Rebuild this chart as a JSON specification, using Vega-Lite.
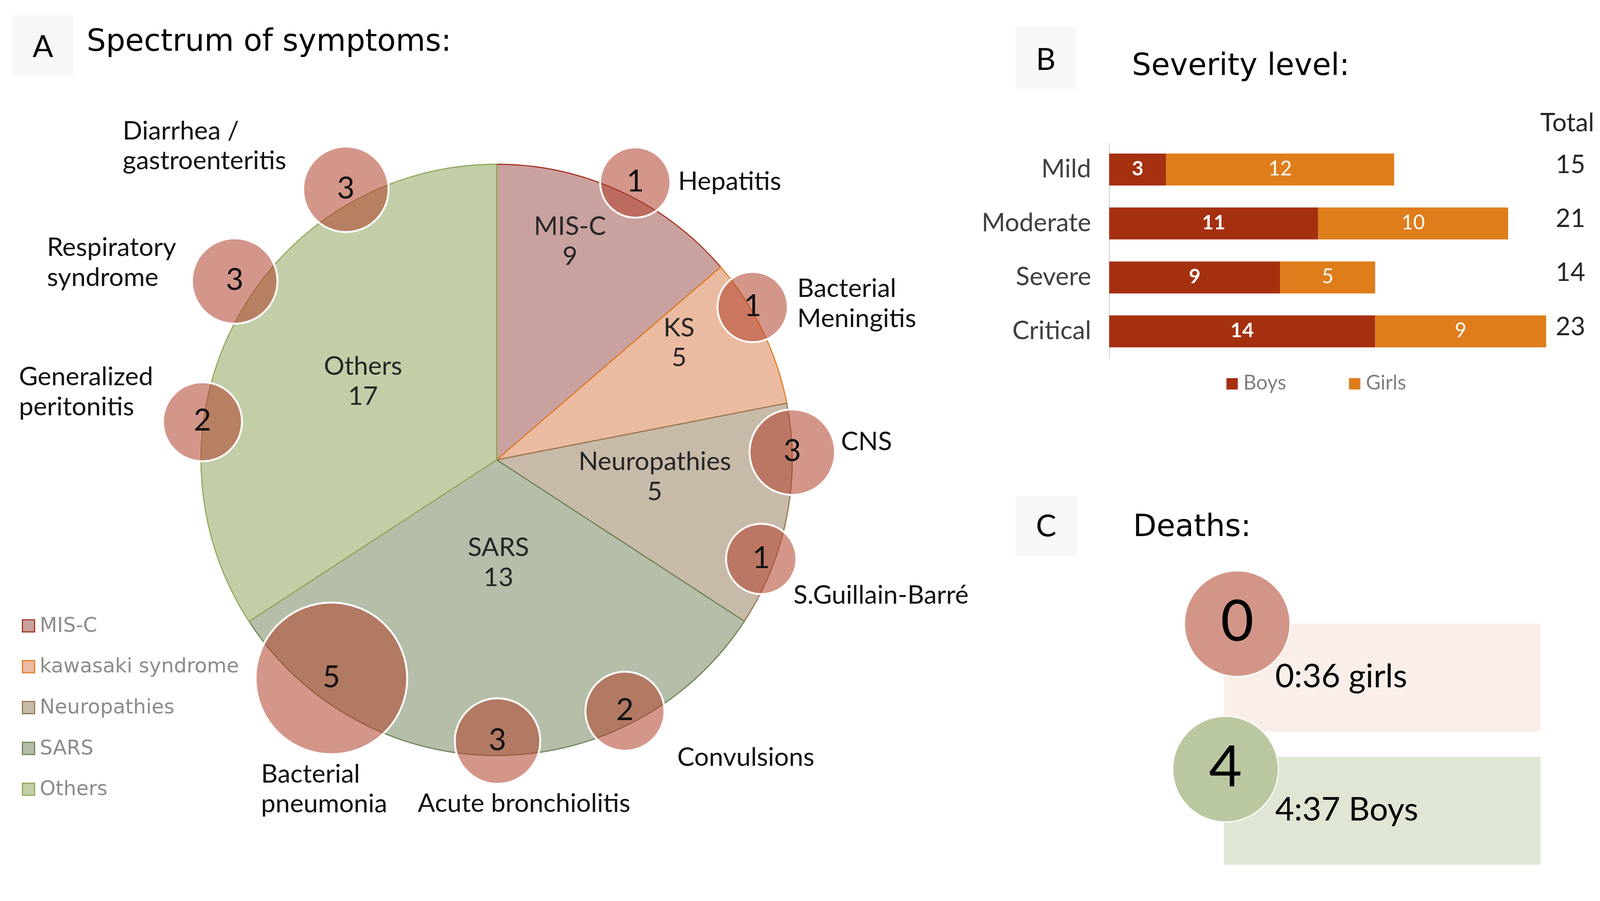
{
  "$schema": "https://vega.github.io/schema/vega-lite/v6.json",
  "width": 4215,
  "height": 2306,
  "padding": 0,
  "autosize": {"type": "fit", "contains": "padding"},
  "background": "white",
  "config": {"view": {"stroke": null}, "font": "Lato"},
  "datasets": {
    "pie": [
      {"cat": "MIS-C", "short": "MIS-C", "n": 9, "share": 13.69, "ord": 1, "lx": 0.248, "ly": 0.761},
      {"cat": "kawasaki syndrome", "short": "KS", "n": 5, "share": 8.24, "ord": 2, "lx": 0.617, "ly": 0.418},
      {"cat": "Neuropathies", "short": "Neuropathies", "n": 5, "share": 12.26, "ord": 3, "lx": 0.535, "ly": -0.035},
      {"cat": "SARS", "short": "SARS", "n": 13, "share": 31.61, "ord": 4, "lx": 0.006, "ly": -0.325},
      {"cat": "Others", "short": "Others", "n": 17, "share": 34.2, "ord": 5, "lx": -0.452, "ly": 0.288}
    ],
    "symptoms": [
      {"label": "Hepatitis", "n": 1, "bx": 0.469, "by": 0.938, "lx": 0.614, "ly": 0.913},
      {"label": "Bacterial\nMeningitis", "n": 1, "bx": 0.866, "by": 0.517, "lx": 1.017, "ly": 0.551},
      {"label": "CNS", "n": 3, "bx": 1.0, "by": 0.026, "lx": 1.165, "ly": 0.033},
      {"label": "S.Guillain-Barré", "n": 1, "bx": 0.895, "by": -0.335, "lx": 1.004, "ly": -0.486},
      {"label": "Convulsions", "n": 2, "bx": 0.434, "by": -0.85, "lx": 0.611, "ly": -1.035},
      {"label": "Acute bronchiolitis", "n": 3, "bx": 0.003, "by": -0.951, "lx": -0.267, "ly": -1.19},
      {"label": "Bacterial\npneumonia", "n": 5, "bx": -0.559, "by": -0.739, "lx": -0.797, "ly": -1.091},
      {"label": "Generalized\nperitonitis", "n": 2, "bx": -0.995, "by": 0.129, "lx": -1.616, "ly": 0.252},
      {"label": "Respiratory\nsyndrome", "n": 3, "bx": -0.886, "by": 0.605, "lx": -1.521, "ly": 0.69},
      {"label": "Diarrhea /\ngastroenteritis", "n": 3, "bx": -0.51, "by": 0.915, "lx": -1.265, "ly": 1.084}
    ],
    "severity": [
      {"severity": "Mild", "sex": "Boys", "count": 3},
      {"severity": "Mild", "sex": "Girls", "count": 12},
      {"severity": "Moderate", "sex": "Boys", "count": 11},
      {"severity": "Moderate", "sex": "Girls", "count": 10},
      {"severity": "Severe", "sex": "Boys", "count": 9},
      {"severity": "Severe", "sex": "Girls", "count": 5},
      {"severity": "Critical", "sex": "Boys", "count": 14},
      {"severity": "Critical", "sex": "Girls", "count": 9}
    ],
    "deaths": [
      {"sex": "girls", "deaths": 0, "total": 36, "label": "0:36 girls"},
      {"sex": "boys", "deaths": 4, "total": 37, "label": "4:37 Boys"}
    ],
    "headers": [
      {"letter": "A", "title": "Spectrum of symptoms:"},
      {"letter": "B", "title": "Severity level:"},
      {"letter": "C", "title": "Deaths:"}
    ]
  },
  "layer": [
    {
      "layer": [
        {
          "data": {"name": "pie"},
          "mark": {"type": "arc", "outerRadius": 756.8, "strokeWidth": 2.9},
          "encoding": {
            "x": {"datum": 0, "type": "quantitative", "scale": {"domain": [-1, 1], "range": [514.6, 2028.2], "nice": false, "zero": false}, "axis": null},
            "y": {"datum": 0, "type": "quantitative", "scale": {"domain": [-1, 1], "range": [1933.8, 420.2], "nice": false, "zero": false}, "axis": null},
            "theta": {"field": "share", "type": "quantitative", "stack": true},
            "order": {"field": "ord", "type": "quantitative"},
            "fill": {
              "field": "cat", "type": "nominal",
              "scale": {"domain": ["MIS-C", "kawasaki syndrome", "Neuropathies", "SARS", "Others"], "range": ["#C9A19F", "#EBBBA1", "#C8BAA9", "#B4BEA9", "#C2CEA7"]},
              "legend": {"orient": "none", "legendX": 47.2, "legendY": 1575.9, "title": null, "symbolType": "square", "symbolSize": 969, "symbolStrokeWidth": 2.9, "labelFont": "DejaVu Sans", "labelFontSize": 51.6, "labelColor": "#8C8C8C", "labelLimit": 0, "rowPadding": 51.6, "labelOffset": 2.9, "padding": 0}
            },
            "stroke": {
              "field": "cat", "type": "nominal",
              "scale": {"domain": ["MIS-C", "kawasaki syndrome", "Neuropathies", "SARS", "Others"], "range": ["#A5321C", "#E07C22", "#93784E", "#6E8355", "#8EA958"]},
              "legend": {"orient": "none", "legendX": 47.2, "legendY": 1575.9, "title": null, "symbolType": "square", "symbolSize": 969, "symbolStrokeWidth": 2.9, "labelFont": "DejaVu Sans", "labelFontSize": 51.6, "labelColor": "#8C8C8C", "labelLimit": 0, "rowPadding": 51.6, "labelOffset": 2.9, "padding": 0}
            }
          }
        },
        {
          "data": {"name": "pie"},
          "mark": {"type": "text", "font": "Lato", "fontSize": 66.1, "align": "center", "baseline": "alphabetic", "color": "#262626"},
          "encoding": {
            "x": {"field": "lx", "type": "quantitative", "axis": null},
            "y": {"field": "ly", "type": "quantitative", "axis": null},
            "text": {"field": "short"}
          }
        },
        {
          "data": {"name": "pie"},
          "mark": {"type": "text", "font": "Lato", "fontSize": 66.1, "align": "center", "baseline": "alphabetic", "color": "#262626", "dy": 76.8},
          "encoding": {
            "x": {"field": "lx", "type": "quantitative", "axis": null},
            "y": {"field": "ly", "type": "quantitative", "axis": null},
            "text": {"field": "n"}
          }
        },
        {
          "data": {"name": "symptoms"},
          "mark": {"type": "point", "filled": true, "shape": "circle", "color": "#B1402A", "opacity": 1, "fillOpacity": 0.55, "stroke": "white", "strokeWidth": 4.9, "strokeOpacity": 1},
          "encoding": {
            "x": {"field": "bx", "type": "quantitative", "axis": null},
            "y": {"field": "by", "type": "quantitative", "axis": null},
            "size": {"field": "n", "type": "quantitative", "scale": {"domain": [1, 2, 3, 5], "range": [32400, 40934, 47906, 150650]}, "legend": null}
          }
        },
        {
          "data": {"name": "symptoms"},
          "mark": {"type": "text", "font": "Lato", "fontSize": 77.8, "align": "center", "baseline": "middle", "color": "#111111"},
          "encoding": {
            "x": {"field": "bx", "type": "quantitative", "axis": null},
            "y": {"field": "by", "type": "quantitative", "axis": null},
            "text": {"field": "n"}
          }
        },
        {
          "data": {"name": "symptoms"},
          "mark": {"type": "text", "font": "Lato", "fontSize": 66.1, "align": "left", "baseline": "alphabetic", "lineBreak": "\n", "lineHeight": 76.8, "color": "#111111"},
          "encoding": {
            "x": {"field": "lx", "type": "quantitative", "axis": null},
            "y": {"field": "ly", "type": "quantitative", "axis": null},
            "text": {"field": "label"}
          }
        }
      ]
    },
    {
      "data": {"name": "severity"},
      "layer": [
        {
          "mark": {"type": "bar"},
          "encoding": {
            "y": {
              "field": "severity", "type": "nominal",
              "scale": {"domain": ["Mild", "Moderate", "Severe", "Critical"], "range": [364.8, 917.3], "paddingInner": 0.408, "paddingOuter": 0.204},
              "axis": {"orient": "left", "offset": -2839.5, "title": null, "ticks": false, "grid": false, "domainColor": "#D9D9D9", "domainWidth": 2.9, "labelPadding": 46.7, "labelLimit": 0, "labelFont": "Lato", "labelFontSize": 65.2, "labelColor": "#404040"}
            },
            "x": {
              "field": "count", "type": "quantitative", "stack": "zero",
              "scale": {"domain": [0, 25.52], "range": [2839.5, 4080.7], "nice": false, "zero": true},
              "axis": {"orient": "top", "offset": -364.8, "title": "Total", "titleAnchor": "end", "labels": false, "ticks": false, "domain": false, "grid": false, "titleFont": "Lato", "titleFontSize": 65.2, "titleFontWeight": "normal", "titleColor": "#262626", "titlePadding": 15.6}
            },
            "color": {
              "field": "sex", "type": "nominal",
              "scale": {"domain": ["Boys", "Girls"], "range": ["#A5300F", "#DF7D1B"]},
              "legend": {"orient": "none", "legendX": 3128.4, "legendY": 956.2, "direction": "horizontal", "title": null, "symbolType": "square", "symbolSize": 851, "symbolStrokeWidth": 0, "labelFont": "Lato", "labelFontSize": 51.6, "labelColor": "#7F7F7F", "labelOffset": 2.9, "columnPadding": 148.8, "padding": 0}
            },
            "order": {"field": "sex", "type": "nominal"}
          }
        },
        {
          "mark": {"type": "text", "font": "Lato", "fontSize": 51.6, "fontWeight": "bold", "color": "white", "baseline": "middle", "align": "center"},
          "encoding": {
            "y": {"field": "severity", "type": "nominal"},
            "x": {"field": "count", "type": "quantitative", "stack": "zero", "bandPosition": 0.5},
            "detail": {"field": "sex"},
            "order": {"field": "sex", "type": "nominal"},
            "text": {"field": "count"},
            "opacity": {"condition": {"test": "datum.sex === 'Boys'", "value": 1}, "value": 0}
          }
        },
        {
          "mark": {"type": "text", "font": "Lato", "fontSize": 51.6, "fontWeight": "normal", "color": "white", "baseline": "middle", "align": "center"},
          "encoding": {
            "y": {"field": "severity", "type": "nominal"},
            "x": {"field": "count", "type": "quantitative", "stack": "zero", "bandPosition": 0.5},
            "detail": {"field": "sex"},
            "order": {"field": "sex", "type": "nominal"},
            "text": {"field": "count"},
            "opacity": {"condition": {"test": "datum.sex === 'Girls'", "value": 1}, "value": 0}
          }
        },
        {
          "transform": [{"aggregate": [{"op": "sum", "field": "count", "as": "total"}], "groupby": ["severity"]}],
          "mark": {"type": "text", "font": "Lato", "fontSize": 65.2, "color": "#262626", "baseline": "middle", "align": "center", "dy": -10.7},
          "encoding": {
            "y": {"field": "severity", "type": "nominal"},
            "x": {"datum": 24.28, "type": "quantitative"},
            "text": {"field": "total"}
          }
        }
      ]
    },
    {
      "data": {"name": "deaths"},
      "layer": [
        {
          "mark": {"type": "rect"},
          "encoding": {
            "y": {"field": "sex", "type": "nominal", "scale": {"domain": ["girls", "boys"], "range": [1596.3, 2213.0], "paddingInner": 0.19, "paddingOuter": 0}, "axis": null},
            "x": {"datum": 0, "type": "quantitative", "scale": {"domain": [0, 1], "range": [3133.3, 3943.6], "nice": false, "zero": false}, "axis": null},
            "x2": {"datum": 1},
            "color": {"field": "sex", "type": "nominal", "scale": {"domain": ["girls", "boys"], "range": ["#FAEEE9", "#DFE6D4"]}, "legend": null}
          }
        },
        {
          "transform": [{"filter": "datum.sex === 'girls'"}],
          "layer": [
            {
              "mark": {"type": "point", "filled": true, "shape": "circle", "size": 73130, "color": "#D39587", "opacity": 1, "stroke": "white", "strokeWidth": 3},
              "encoding": {
                "x": {"datum": 0.042, "type": "quantitative"},
                "y": {"field": "sex", "type": "nominal", "bandPosition": 0}
              }
            },
            {
              "mark": {"type": "text", "font": "Lato", "fontSize": 145.9, "align": "center", "baseline": "middle", "color": "#000000"},
              "encoding": {
                "x": {"datum": 0.042, "type": "quantitative"},
                "y": {"field": "sex", "type": "nominal", "bandPosition": 0},
                "text": {"field": "deaths"}
              }
            }
          ]
        },
        {
          "transform": [{"filter": "datum.sex === 'boys'"}],
          "layer": [
            {
              "mark": {"type": "point", "filled": true, "shape": "circle", "size": 73130, "color": "#B9C8A0", "opacity": 1, "stroke": "white", "strokeWidth": 3},
              "encoding": {
                "x": {"datum": 0.005, "type": "quantitative"},
                "y": {"field": "sex", "type": "nominal", "bandPosition": 0.114}
              }
            },
            {
              "mark": {"type": "text", "font": "Lato", "fontSize": 145.9, "align": "center", "baseline": "middle", "color": "#000000"},
              "encoding": {
                "x": {"datum": 0.005, "type": "quantitative"},
                "y": {"field": "sex", "type": "nominal", "bandPosition": 0.114},
                "text": {"field": "deaths"}
              }
            }
          ]
        },
        {
          "mark": {"type": "text", "font": "Lato", "fontSize": 83.7, "align": "left", "baseline": "alphabetic", "color": "#000000"},
          "encoding": {
            "x": {"datum": 0.162, "type": "quantitative"},
            "y": {"field": "sex", "type": "nominal", "bandPosition": 0.59},
            "text": {"field": "label"}
          }
        }
      ]
    },
    {
      "data": {"name": "headers"},
      "layer": [
        {
          "transform": [{"filter": "datum.letter === 'A'"}],
          "layer": [
            {
              "mark": {"type": "rect", "color": "#F7F7F5"},
              "encoding": {
                "x": {"datum": 0.759, "type": "quantitative", "scale": {"domain": [0, 100], "range": [0, 4100.2], "nice": false, "zero": false}, "axis": null},
                "x2": {"datum": 4.603},
                "y": {"datum": 1.735, "type": "quantitative", "scale": {"domain": [0, 100], "range": [0, 2243.2], "nice": false, "zero": false}, "axis": null},
                "y2": {"datum": 8.586}
              }
            },
            {
              "mark": {"type": "text", "font": "Lato", "fontSize": 77.8, "align": "center", "baseline": "alphabetic", "color": "#000000"},
              "encoding": {"x": {"datum": 2.681, "type": "quantitative"}, "y": {"datum": 6.505, "type": "quantitative"}, "text": {"field": "letter"}}
            },
            {
              "mark": {"type": "text", "font": "DejaVu Sans", "fontSize": 77.8, "align": "left", "baseline": "alphabetic", "color": "#000000"},
              "encoding": {"x": {"datum": 5.409, "type": "quantitative"}, "y": {"datum": 5.811, "type": "quantitative"}, "text": {"field": "title"}}
            }
          ]
        },
        {
          "transform": [{"filter": "datum.letter === 'B'"}],
          "layer": [
            {
              "mark": {"type": "rect", "color": "#F7F7F5"},
              "encoding": {
                "x": {"datum": 63.393, "type": "quantitative"},
                "x2": {"datum": 67.189},
                "y": {"datum": 3.122, "type": "quantitative"},
                "y2": {"datum": 10.191}
              }
            },
            {
              "mark": {"type": "text", "font": "Lato", "fontSize": 77.8, "align": "center", "baseline": "alphabetic", "color": "#000000"},
              "encoding": {"x": {"datum": 65.29, "type": "quantitative"}, "y": {"datum": 7.979, "type": "quantitative"}, "text": {"field": "letter"}}
            },
            {
              "mark": {"type": "text", "font": "DejaVu Sans", "fontSize": 77.8, "align": "left", "baseline": "alphabetic", "color": "#000000"},
              "encoding": {"x": {"datum": 70.676, "type": "quantitative"}, "y": {"datum": 8.543, "type": "quantitative"}, "text": {"field": "title"}}
            }
          ]
        },
        {
          "transform": [{"filter": "datum.letter === 'C'"}],
          "layer": [
            {
              "mark": {"type": "rect", "color": "#F7F7F5"},
              "encoding": {
                "x": {"datum": 63.393, "type": "quantitative"},
                "x2": {"datum": 67.284},
                "y": {"datum": 56.591, "type": "quantitative"},
                "y2": {"datum": 63.4}
              }
            },
            {
              "mark": {"type": "text", "font": "Lato", "fontSize": 77.8, "align": "center", "baseline": "alphabetic", "color": "#000000"},
              "encoding": {"x": {"datum": 65.314, "type": "quantitative"}, "y": {"datum": 61.188, "type": "quantitative"}, "text": {"field": "letter"}}
            },
            {
              "mark": {"type": "text", "font": "DejaVu Sans", "fontSize": 77.8, "align": "left", "baseline": "alphabetic", "color": "#000000"},
              "encoding": {"x": {"datum": 70.747, "type": "quantitative"}, "y": {"datum": 61.145, "type": "quantitative"}, "text": {"field": "title"}}
            }
          ]
        }
      ]
    }
  ],
  "resolve": {
    "scale": {"x": "independent", "y": "independent", "theta": "independent", "fill": "independent", "stroke": "independent", "color": "independent", "size": "independent", "opacity": "independent"}
  }
}
